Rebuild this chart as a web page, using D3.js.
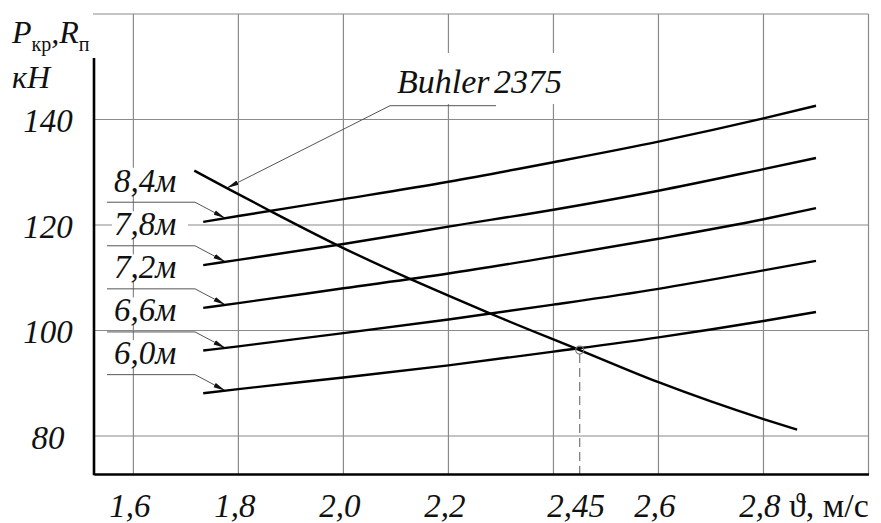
<!DOCTYPE html>
<html><head><meta charset="utf-8">
<script src="https://cdn.jsdelivr.net/npm/d3@7/dist/d3.min.js"></script>
<style>
body{margin:0;background:#fff}svg{display:block}
.sf{font-family:"Liberation Serif","Times New Roman","DejaVu Serif",serif}
</style>
</head><body><svg id="c" width="881" height="523"></svg>
<script>
// ---- data ----
const speeds = [1.733, 1.8, 2.0, 2.2, 2.4, 2.6, 2.8, 2.9];
const p60 = [88.1, 88.9, 91.1, 93.4, 96.0, 98.7, 101.8, 103.5];
const p66 = [96.2, 97.0, 99.5, 102.1, 104.9, 107.9, 111.4, 113.2];
const p72 = [104.3, 105.2, 108.0, 110.8, 114.0, 117.4, 121.1, 123.2];
const p78 = [112.4, 113.4, 116.4, 119.7, 122.9, 126.5, 130.6, 132.7];
const p84 = [120.6, 121.7, 124.9, 128.2, 131.9, 135.8, 140.2, 142.6];
const seriesNames = ["6,0м", "6,6м", "7,2м", "7,8м", "8,4м"];
const buhlerV = [1.716, 1.778, 1.858, 1.988, 2.131, 2.2, 2.28, 2.45, 2.6, 2.8, 2.864];
const buhlerP = [130.3, 127.0, 122.8, 116.2, 109.6, 106.6, 103.2, 96.3, 90.2, 83.2, 81.2];
const buhlerName = "Buhler 2375";
const opV = 2.45, opP = 96.3;
const xGrid = [1.6, 1.8, 2.0, 2.2, 2.4, 2.6, 2.8, 3.0];
const yGrid = [80, 100, 120, 140, 160];
const xTickVals = [1.6, 1.8, 2.0, 2.2, 2.45, 2.6, 2.8];
const xTickLabels = ["1,6", "1,8", "2,0", "2,2", "2,45", "2,6", "2,8"];
const yTickVals = [80, 100, 120, 140];
const yTickLabels = ["80", "100", "120", "140"];

// ---- setup ----
const svg = d3.select("#c");
const x = d3.scaleLinear().domain([1.525, 3.0]).range([94, 868.5]);
const y = d3.scaleLinear().domain([72.8, 160]).range([474, 14]);
const gridColor = "#8a8a8a";

const defs = svg.append("defs");
defs.append("marker").attr("id", "arr").attr("markerUnits", "userSpaceOnUse")
  .attr("viewBox", "0 0 12 6").attr("refX", 12).attr("refY", 3)
  .attr("markerWidth", 12).attr("markerHeight", 6).attr("orient", "auto")
  .append("path").attr("d", "M0,0.6 L12,3 L0,5.4 Z").attr("fill", "#111");

// grid
svg.append("g").selectAll("line").data(xGrid).join("line")
  .attr("x1", d => x(d)).attr("x2", d => x(d))
  .attr("y1", y(160)).attr("y2", y(72.8))
  .attr("stroke", gridColor).attr("stroke-width", 1.2);
svg.append("g").selectAll("line").data(yGrid).join("line")
  .attr("x1", x(1.525) - 1).attr("x2", x(3.0))
  .attr("y1", d => y(d)).attr("y2", d => y(d))
  .attr("stroke", gridColor).attr("stroke-width", 1.2);

// ---- annotations backgrounds & leaders ----
function interp(vs, ps, v) {
  const i = d3.bisectRight(vs, v) - 1;
  const j = Math.min(i + 1, vs.length - 1);
  const t = (v - vs[i]) / (vs[j] - vs[i] || 1);
  return ps[i] + t * (ps[j] - ps[i]);
}
const family = [p60, p66, p72, p78, p84];
const tipV = 1.775;
const ann = svg.append("g");
family.forEach((ps, k) => {
  const ty = y(interp(speeds, ps, tipV));
  const ly = ty - 16;
  const base = ly - 10.5;
  ann.append("rect").attr("x", 112).attr("y", base - 24).attr("width", 76).attr("height", 26).attr("fill", "#fff");
  ann.append("path").attr("d", `M107,${ly} L195,${ly} L${x(tipV)},${ty}`)
    .attr("fill", "none").attr("stroke", "#555").attr("stroke-width", 1)
    .attr("marker-end", "url(#arr)");
  ann.append("text").attr("class", "sf").attr("x", 114).attr("y", base)
    .attr("font-style", "italic").attr("font-size", 33)
    .attr("fill", "#111").text(seriesNames[k]);
});
// Buhler label
const bTipV = 1.778;
const bty = y(interp(buhlerV, buhlerP, bTipV));
ann.append("rect").attr("x", 392).attr("y", 53).attr("width", 178).attr("height", 51).attr("fill", "#fff");
ann.append("path").attr("d", `M496,105.7 L390,105.7 L${x(bTipV)},${bty}`)
  .attr("fill", "none").attr("stroke", "#555").attr("stroke-width", 1)
  .attr("marker-end", "url(#arr)");
ann.append("text").attr("class", "sf").attr("x", 397).attr("y", 93)
  .attr("font-style", "italic").attr("font-size", 34)
  .attr("word-spacing", -4).attr("fill", "#111").text(buhlerName);

// ---- curves ----
const line = d3.line().x(d => x(d[0])).y(d => y(d[1])).curve(d3.curveMonotoneX);
svg.append("g").selectAll("path").data(family).join("path")
  .attr("d", ps => line(speeds.map((v, i) => [v, ps[i]])))
  .attr("fill", "none").attr("stroke", "#000").attr("stroke-width", 2.4);
svg.append("path").attr("d", line(buhlerV.map((v, i) => [v, buhlerP[i]])))
  .attr("fill", "none").attr("stroke", "#000").attr("stroke-width", 2.4);

// operating point
svg.append("line").attr("x1", x(opV)).attr("x2", x(opV)).attr("y1", y(opP) + 4).attr("y2", y(72.8))
  .attr("stroke", "#777").attr("stroke-width", 1.2).attr("stroke-dasharray", "9,5");
svg.append("circle").attr("cx", x(opV)).attr("cy", y(opP)).attr("r", 4)
  .attr("fill", "none").attr("stroke", "#777").attr("stroke-width", 1.2);

// ---- axes ----
const xAxis = d3.axisBottom(x).tickValues(xTickVals)
  .tickFormat((d, i) => xTickLabels[i]).tickSize(0).tickSizeOuter(0);
const gx = svg.append("g").attr("transform", "translate(0,474)").call(xAxis)
  .attr("font-family", null).attr("font-size", null);
gx.select(".domain").attr("stroke", "#000").attr("stroke-width", 2.6);
gx.selectAll("text").attr("class", "sf").attr("dy", null).attr("y", 43).attr("dx", -4)
  .attr("font-style", "italic").attr("font-size", 33).attr("fill", "#111");

const yAxis = d3.axisLeft(y).tickValues(yTickVals)
  .tickFormat((d, i) => yTickLabels[i]).tickSize(0).tickSizeOuter(0);
const gy = svg.append("g").attr("transform", "translate(94,0)").call(yAxis)
  .attr("font-family", null).attr("font-size", null);
gy.select(".domain").remove();
gy.selectAll("text").attr("class", "sf").attr("dy", null).attr("y", 12).attr("x", -46).attr("text-anchor", "middle")
  .attr("font-style", "italic").attr("font-size", 33).attr("fill", "#111");
svg.append("line").attr("x1", 94).attr("x2", 94).attr("y1", 58).attr("y2", 475.3)
  .attr("stroke", "#000").attr("stroke-width", 2.6);

// axis titles
const yt = svg.append("text").attr("class", "sf").attr("x", 12).attr("y", 43).attr("fill", "#111");
yt.append("tspan").attr("font-style", "italic").attr("font-size", 32).text("P");
yt.append("tspan").attr("font-size", 20).attr("dy", 8).text("кр");
yt.append("tspan").attr("font-style", "italic").attr("font-size", 32).attr("dy", -8).text(",R");
yt.append("tspan").attr("font-size", 20).attr("dy", 8).text("п");
svg.append("text").attr("class", "sf").attr("x", 12).attr("y", 88)
  .attr("font-style", "italic").attr("font-size", 32).attr("fill", "#111").text("кН");

const xt = svg.append("text").attr("class", "sf").attr("x", 789).attr("y", 517).attr("fill", "#111").attr("font-size", 34);
xt.append("tspan").text("ϑ");
xt.append("tspan").text(", м/с");
</script></body></html>
